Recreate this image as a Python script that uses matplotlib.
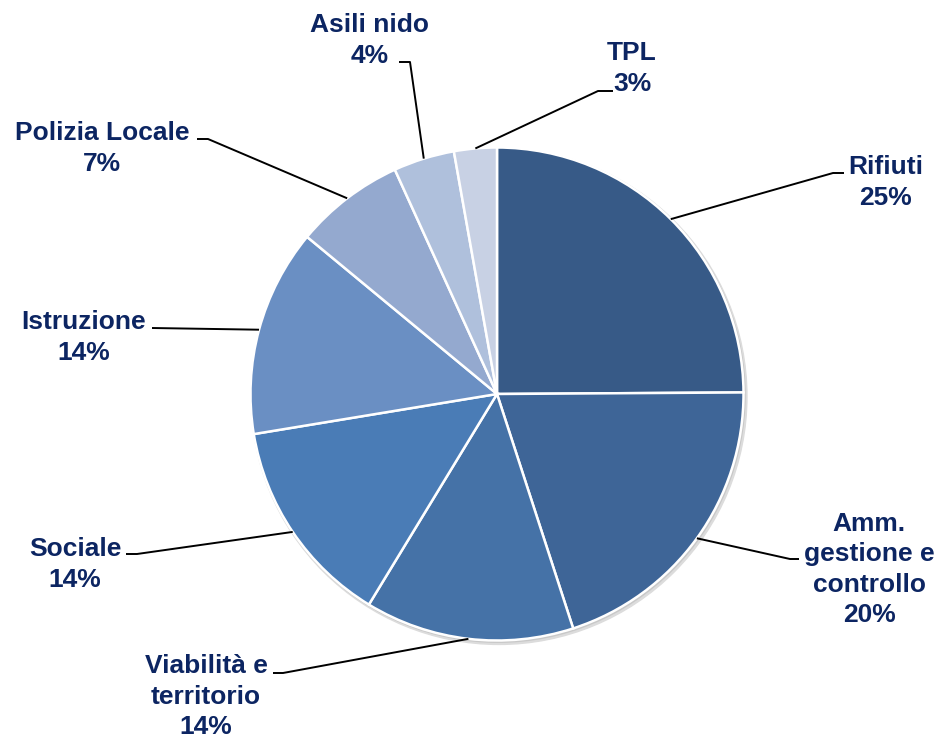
import numpy as np
import matplotlib
matplotlib.use("Agg")
import matplotlib.pyplot as plt
from matplotlib.patches import Circle

# spending shares (%), clockwise from 12 o'clock
categories = ["Rifiuti", "Amm.\ngestione e\ncontrollo", "Viabilità e\nterritorio",
              "Sociale", "Istruzione", "Polizia Locale", "Asili nido", "TPL"]
shares = [24.9, 20.1, 13.7, 13.7, 13.6, 7.2, 4.0, 2.8]
colors = ["#375A87", "#3E6597", "#4572A7", "#4A7CB6",
          "#6A8FC3", "#94A9CF", "#AFC0DC", "#C8D1E4"]

# label layout in pixels: (text block centre), (elbow end, elbow start)
label_pos = [(886, 180), (869, 567), (206, 694), (75, 562),
             (84, 335), (102, 146), (370, 38), (632, 66)]
elbow = [((844, 173), (833, 173)), ((799, 559), (790, 559)),
         ((273, 673), (283, 673)), ((126, 554), (137, 554)),
         ((152, 328), (152, 328)), ((197, 139), (208, 139)),
         ((399, 62), (410, 62)), ((613, 91), (598, 91))]

W, H = 936, 738
CX, CY, R = 497, 394, 246.5
TXT = "#0C2562"
LINE_H = 30.5


def px(x, y):
    return (x - CX) / R, (CY - y) / R


fig = plt.figure(figsize=(W / 100, H / 100), dpi=100)
ax = fig.add_axes([0, 0, 1, 1])

# faint shadow under the pie
ax.add_patch(Circle((0.008, -0.010), 1.006, color="#dcdcdc", zorder=0))
ax.add_patch(Circle((0.004, -0.005), 1.002, color="#c8c8c8", zorder=0))

wedges, _ = ax.pie(shares, colors=colors, startangle=90, counterclock=False,
                   radius=1, center=(0, 0), frame=True,
                   wedgeprops=dict(edgecolor="white", linewidth=1.8))
ax.set_xlim(-CX / R, (W - CX) / R)
ax.set_ylim(-(H - CY) / R, CY / R)
ax.set_aspect("equal")
ax.axis("off")

total = sum(shares)
for w, name, v, (lx, ly), (e1, e2) in zip(wedges, categories, shares, label_pos, elbow):
    mid = np.deg2rad((w.theta1 + w.theta2) / 2)
    ex, ey = np.cos(mid), np.sin(mid)
    p1 = px(*e1)
    p2 = px(*e2)
    ax.plot([p1[0], p2[0], ex], [p1[1], p2[1], ey], color="black", lw=1.4,
            solid_capstyle="butt", zorder=3)
    lines = name.split("\n") + [f"{round(v / total * 100)}%"]
    n = len(lines)
    for i, s in enumerate(lines):
        yc = ly + (i - (n - 1) / 2) * LINE_H
        tx, ty = px(lx, yc + 9.5)
        ax.text(tx, ty, s, ha="center", va="baseline", fontsize=19,
                fontweight="bold", family="Liberation Sans", color=TXT)

fig.savefig("out.png", dpi=100)
